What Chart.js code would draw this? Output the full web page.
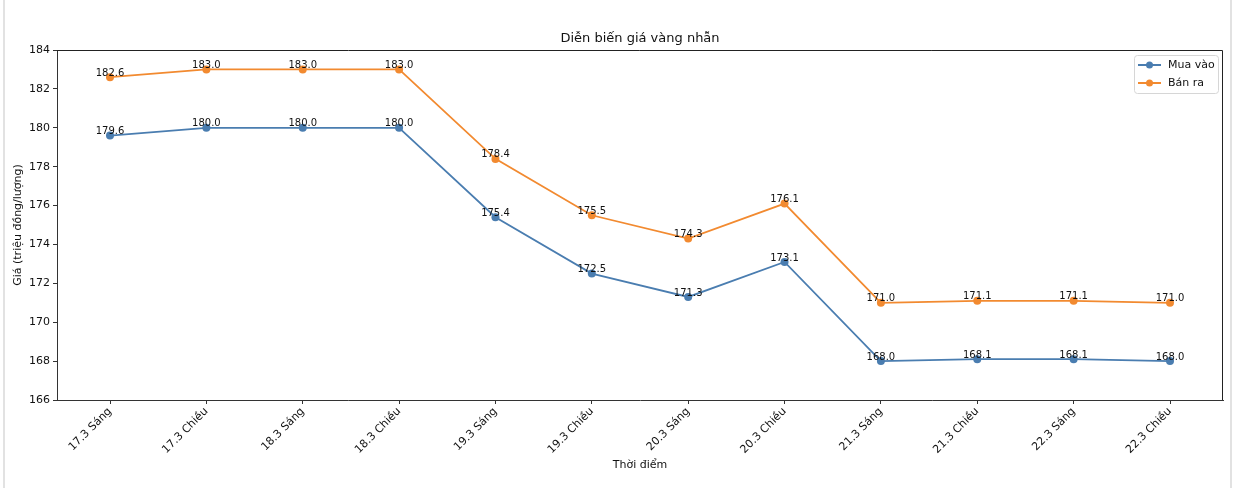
<!DOCTYPE html>
<html>
<head>
<meta charset="utf-8">
<script src="https://cdn.jsdelivr.net/npm/chart.js@4.4.1/dist/chart.umd.min.js"></script>
<style>
  html, body { margin: 0; padding: 0; background: #fff; }
  #wrap { position: relative; width: 1240px; height: 488px; }
  #wrap:before, #wrap:after { content: ""; position: absolute; top: 0; bottom: 0; width: 2px; background: #e2e2e2; }
  #wrap:before { left: 3px; }
  #wrap:after { left: 1230px; }
</style>
</head>
<body>
<div id="wrap"><canvas id="goldChart" width="1240" height="488"></canvas></div>
<script>
const timeLabels = ["17.3 Sáng", "17.3 Chiều", "18.3 Sáng", "18.3 Chiều", "19.3 Sáng", "19.3 Chiều",
  "20.3 Sáng", "20.3 Chiều", "21.3 Sáng", "21.3 Chiều", "22.3 Sáng", "22.3 Chiều"];
const buyPrices = [179.6, 180.0, 180.0, 180.0, 175.4, 172.5, 171.3, 173.1, 168.0, 168.1, 168.1, 168.0];
const sellPrices = [182.6, 183.0, 183.0, 183.0, 178.4, 175.5, 174.3, 176.1, 171.0, 171.1, 171.1, 171.0];
const seriesNames = ["Mua vào", "Bán ra"];
const yTicks = [166, 168, 170, 172, 174, 176, 178, 180, 182, 184];

const BLUE = "#4a7db0";
const ORANGE = "#f28a30";
const FONT = "'DejaVu Sans', sans-serif";

// title, axis titles, frame, value labels and legend, matplotlib style
const decorPlugin = {
  id: "decor",
  afterDraw(chart) {
    const { ctx, chartArea: a } = chart;
    ctx.save();

    // top + right spines
    ctx.strokeStyle = "#222";
    ctx.lineWidth = 1;
    ctx.beginPath();
    ctx.moveTo(a.left, a.top + 0.5);
    ctx.lineTo(a.right - 0.5, a.top + 0.5);
    ctx.lineTo(a.right - 0.5, a.bottom);
    ctx.stroke();

    // value labels
    ctx.fillStyle = "#111";
    ctx.font = "10px " + FONT;
    ctx.textAlign = "center";
    ctx.textBaseline = "bottom";
    chart.data.datasets.forEach((ds, di) => {
      chart.getDatasetMeta(di).data.forEach((pt, i) => {
        ctx.fillText(ds.data[i].y.toFixed(1), pt.x, pt.y + 1);
      });
    });

    // title
    ctx.fillStyle = "#111";
    ctx.font = "13px " + FONT;
    ctx.textBaseline = "middle";
    ctx.fillText("Diễn biến giá vàng nhẫn", (a.left + a.right) / 2, 39);

    // axis titles
    ctx.font = "11px " + FONT;
    ctx.fillText("Thời điểm", (a.left + a.right) / 2, 465);
    ctx.save();
    ctx.translate(18, (a.top + a.bottom) / 2);
    ctx.rotate(-Math.PI / 2);
    ctx.fillText("Giá (triệu đồng/lượng)", 0, 0);
    ctx.restore();

    // legend
    const bx = a.right - 89, by = a.top + 5, bw = 84, bh = 38;
    ctx.fillStyle = "rgba(255,255,255,0.85)";
    ctx.strokeStyle = "#d6d6d6";
    ctx.beginPath();
    ctx.roundRect(bx + 0.5, by + 0.5, bw, bh, 3);
    ctx.fill();
    ctx.stroke();
    [BLUE, ORANGE].forEach((c, i) => {
      const y = by + 10 + i * 18;
      ctx.strokeStyle = c;
      ctx.lineWidth = 2;
      ctx.beginPath();
      ctx.moveTo(bx + 4, y);
      ctx.lineTo(bx + 27, y);
      ctx.stroke();
      ctx.fillStyle = c;
      ctx.beginPath();
      ctx.arc(bx + 15.5, y, 3.5, 0, Math.PI * 2);
      ctx.fill();
      ctx.fillStyle = "#111";
      ctx.font = "11px " + FONT;
      ctx.textAlign = "left";
      ctx.textBaseline = "middle";
      ctx.fillText(seriesNames[i], bx + 34, y);
    });

    ctx.restore();
  }
};

function toPoints(values) {
  return values.map((v, i) => ({ x: i, y: v }));
}

new Chart(document.getElementById("goldChart"), {
  type: "line",
  data: {
    datasets: [
      {
        label: seriesNames[0],
        data: toPoints(buyPrices),
        borderColor: BLUE,
        backgroundColor: BLUE,
        borderWidth: 1.8,
        pointRadius: 4,
        pointBorderWidth: 0,
        tension: 0
      },
      {
        label: seriesNames[1],
        data: toPoints(sellPrices),
        borderColor: ORANGE,
        backgroundColor: ORANGE,
        borderWidth: 1.8,
        pointRadius: 4,
        pointBorderWidth: 0,
        tension: 0
      }
    ]
  },
  options: {
    responsive: false,
    animation: false,
    layout: { padding: { top: 50, right: 17, left: 0, bottom: 0 } },
    plugins: {
      legend: { display: false },
      title: { display: false },
      tooltip: { enabled: false }
    },
    scales: {
      x: {
        type: "linear",
        min: -0.55,
        max: timeLabels.length - 1 + 0.55,
        afterBuildTicks: s => { s.ticks = timeLabels.map((_, i) => ({ value: i })); },
        afterFit: s => { s.height = 88; },
        border: { color: "#333", width: 1 },
        grid: { drawOnChartArea: false, drawTicks: true, tickLength: 4, color: "#333" },
        ticks: {
          autoSkip: false,
          minRotation: 45,
          maxRotation: 45,
          padding: 1,
          color: "#111",
          font: { family: FONT, size: 11 },
          callback: v => timeLabels[v]
        }
      },
      y: {
        min: yTicks[0],
        max: yTicks[yTicks.length - 1],
        afterBuildTicks: s => { s.ticks = yTicks.map(v => ({ value: v })); },
        afterFit: s => { s.width = 57; },
        border: { color: "#333", width: 1 },
        grid: { drawOnChartArea: false, drawTicks: true, tickLength: 4, color: "#333" },
        ticks: {
          padding: 3,
          color: "#111",
          font: { family: FONT, size: 11 }
        }
      }
    }
  },
  plugins: [decorPlugin]
});
</script>
</body>
</html>
